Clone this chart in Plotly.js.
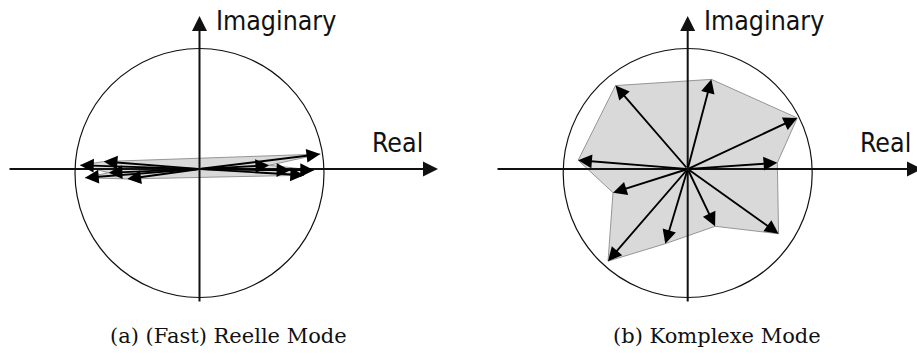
<!DOCTYPE html>
<html>
<head>
<meta charset="utf-8">
<script src="https://cdn.plot.ly/plotly-3.0.1.min.js"></script>
<style>
  html, body { margin: 0; padding: 0; background: #fff; }
  #chart { width: 917px; height: 359px; }
</style>
</head>
<body>
<div id="chart"></div>
<script>
// Mode shape components (real, imaginary), normalised to the unit circle.
// (a) nearly real mode: components almost in phase / anti-phase
const realModeRe = [-0.77, 0.97, 0.56, 0.92, 0.73, 0.84, -0.58, -0.92, -0.73, -0.96];
const realModeIm = [ 0.06, 0.12, 0.03, -0.01, -0.01, -0.05, -0.08, -0.07, -0.03, 0.03];
// (b) complex mode: components spread over all phase angles
const complexModeRe = [-0.58, 0.19, 0.88, 0.72, 0.73, 0.22, -0.18, -0.64, -0.60, -0.88];
const complexModeIm = [ 0.67, 0.72, 0.41, 0.05, -0.52, -0.46, -0.60, -0.74, -0.19, 0.07];

const panelCaptions = ['(a) (Fast) Reelle Mode', '(b) Komplexe Mode'];
const axisLabelRe = 'Real';
const axisLabelIm = 'Imaginary';

// ---- geometry (pixels) ----
const W = 917, H = 359;
const unit = 124.5;            // pixels per unit radius
const originY = 169;           // origin, from top
const panels = [
  { x0: 0,     x1: 458.5, ox: 199.5, axisL: 8,   axisR: 438 },
  { x0: 458.5, x1: 917,   ox: 687.7, axisL: 496, axisR: 922 }
];

const px2x = (p, px) => (px - p.ox) / unit;
const px2y = (py) => (originY - py) / unit;

const layout = {
  width: W, height: H,
  margin: { l: 0, r: 0, t: 0, b: 0 },
  paper_bgcolor: '#fff', plot_bgcolor: 'rgba(0,0,0,0)',
  showlegend: false,
  shapes: [], annotations: []
};

const traces = [];
const modes = [[realModeRe, realModeIm], [complexModeRe, complexModeIm]];

panels.forEach((p, i) => {
  const xa = i === 0 ? 'xaxis' : 'xaxis2';
  const ya = i === 0 ? 'yaxis' : 'yaxis2';
  const xr = i === 0 ? 'x' : 'x2';
  const yr = i === 0 ? 'y' : 'y2';
  const hidden = { visible: false, showgrid: false, zeroline: false, fixedrange: true };
  layout[xa] = Object.assign({}, hidden, {
    domain: [p.x0 / W, p.x1 / W],
    range: [px2x(p, p.x0), px2x(p, p.x1)],
    anchor: yr
  });
  layout[ya] = Object.assign({}, hidden, {
    domain: [0, 1],
    range: [px2y(H), px2y(0)],
    anchor: xr
  });

  const re = modes[i][0], im = modes[i][1];

  // shaded polygon through the vector tips
  traces.push({
    type: 'scatter', mode: 'lines',
    x: re.concat([re[0]]), y: im.concat([im[0]]),
    xaxis: xr, yaxis: yr,
    fill: 'toself', fillcolor: '#d9d9d9',
    line: { color: '#8c8c8c', width: 0.9 },
    hoverinfo: 'skip'
  });

  // unit circle
  layout.shapes.push({
    type: 'circle', xref: xr, yref: yr,
    x0: -1, x1: 1, y0: -1 - 0.032, y1: 1 - 0.032,
    line: { color: '#111', width: 1.2 }, layer: 'above'
  });

  // coordinate axes with arrow heads
  const axisArrow = (x, y, ax, ay) => ({
    xref: xr, yref: yr, axref: xr, ayref: yr,
    x: x, y: y, ax: ax, ay: ay, text: '',
    showarrow: true, arrowhead: 2, arrowsize: 1.5, arrowwidth: 2,
    arrowcolor: '#111', standoff: 0
  });
  layout.annotations.push(axisArrow(px2x(p, p.axisR), 0, px2x(p, p.axisL), 0));
  layout.annotations.push(axisArrow(0, px2y(16), 0, px2y(303)));

  // mode vectors
  re.forEach((v, k) => {
    layout.annotations.push({
      xref: xr, yref: yr, axref: xr, ayref: yr,
      x: v, y: im[k], ax: 0, ay: 0, text: '',
      showarrow: true, arrowhead: 2, arrowsize: 1.45, arrowwidth: 1.9,
      arrowcolor: '#000', standoff: 0
    });
  });

  const labelFont = { family: 'DejaVu Sans Condensed, Liberation Sans Narrow, sans-serif', size: 26.5, color: '#111' };
  layout.annotations.push({
    xref: xr, yref: yr, x: px2x(p, p.ox + 14), y: px2y(38),
    xanchor: 'left', yanchor: 'bottom', text: axisLabelIm,
    showarrow: false, font: labelFont
  });
  layout.annotations.push({
    xref: xr, yref: yr, x: px2x(p, i === 0 ? 425 : 913), y: px2y(160),
    xanchor: 'right', yanchor: 'bottom', text: axisLabelRe,
    showarrow: false, font: labelFont
  });

  layout.annotations.push({
    xref: xr, yref: yr, x: px2x(p, i === 0 ? 228 : 717), y: px2y(336),
    xanchor: 'center', yanchor: 'middle', text: panelCaptions[i],
    showarrow: false,
    font: { family: 'DejaVu Serif, Liberation Serif, serif', size: 21, color: '#111' }
  });
});

Plotly.newPlot('chart', traces, layout, { staticPlot: true });
</script>
</body>
</html>
